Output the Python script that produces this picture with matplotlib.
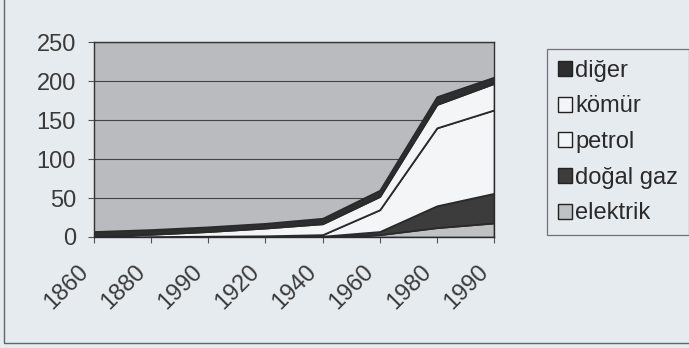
import matplotlib.pyplot as plt
from matplotlib.patches import Patch, Rectangle
from matplotlib.transforms import ScaledTranslation

years = ['1860', '1880', '1990', '1920', '1940', '1960', '1980', '1990']
elektrik = [0, 0, 0, 0, 0, 3, 12, 18]
dogal_gaz = [0, 0, 0, 0, 1, 4, 28, 38]
petrol = [0, 0.5, 1, 1.5, 2, 28, 100, 107]
komur = [1, 3, 6, 10, 14, 17, 30, 34]
diger = [6, 6, 6, 6, 7, 8, 10, 8]

labels = ['elektrik', 'doğal gaz', 'petrol', 'kömür', 'diğer']
colors = ['#bfc1c3', '#3c3c3c', '#f3f5f7', '#f3f5f7', '#2e2e2e']
bg = '#e6ebf0'

plt.rcParams['font.family'] = ['Liberation Sans', 'DejaVu Sans']

fig = plt.figure(figsize=(6.89, 3.48), dpi=100, facecolor=bg)
ax = fig.add_axes([0.1364, 0.319, 0.5806, 0.560])
ax.set_facecolor('#b9bbbe')

x = list(range(len(years)))
ax.stackplot(x, elektrik, dogal_gaz, petrol, komur, diger,
             colors=colors, edgecolor='#2a2a2a', linewidth=1.3, zorder=3)

ax.set_xlim(0, len(years) - 1)
ax.set_ylim(0, 250)
ax.set_yticks([0, 50, 100, 150, 200, 250])
ax.set_xticks(x)
ax.set_xticklabels(years, rotation=45, ha='right', va='center', rotation_mode='anchor')
ax.tick_params(axis='both', labelsize=17, labelcolor='#3a3a3a', color='#555555',
               length=4, width=0.8)
ax.tick_params(axis='x', pad=19)
ax.tick_params(axis='y', pad=9)
shift = ScaledTranslation(-9 / 100, 0, fig.dpi_scale_trans)
for lab in ax.get_xticklabels():
    lab.set_transform(lab.get_transform() + shift)
ax.yaxis.grid(True, color='#444444', linewidth=0.8, zorder=1)
ax.set_axisbelow(True)
for s in ax.spines.values():
    s.set_color('#333333')
    s.set_linewidth(1.0)

order = [4, 3, 2, 1, 0]
handles = [Patch(facecolor=colors[i], edgecolor='#222222', linewidth=1.0) for i in order]
leg = fig.legend(handles, [labels[i] for i in order],
                 loc='upper left', bbox_to_anchor=(0.794, 0.859),
                 fontsize=17, frameon=True, fancybox=False,
                 handlelength=0.6, handleheight=0.6, handletextpad=0.15,
                 labelspacing=0.58, borderpad=0.45, borderaxespad=0)
leg.get_frame().set_facecolor(bg)
leg.get_frame().set_edgecolor('#555555')
leg.get_frame().set_linewidth(0.9)
for t in leg.get_texts():
    t.set_color('#2a2a2a')

fig.patches.append(Rectangle((0.006, 0.014), 1.2, 1.2, transform=fig.transFigure,
                             fill=False, edgecolor='#666666', linewidth=1.0))

fig.savefig('out.png', dpi=100, facecolor=bg)
